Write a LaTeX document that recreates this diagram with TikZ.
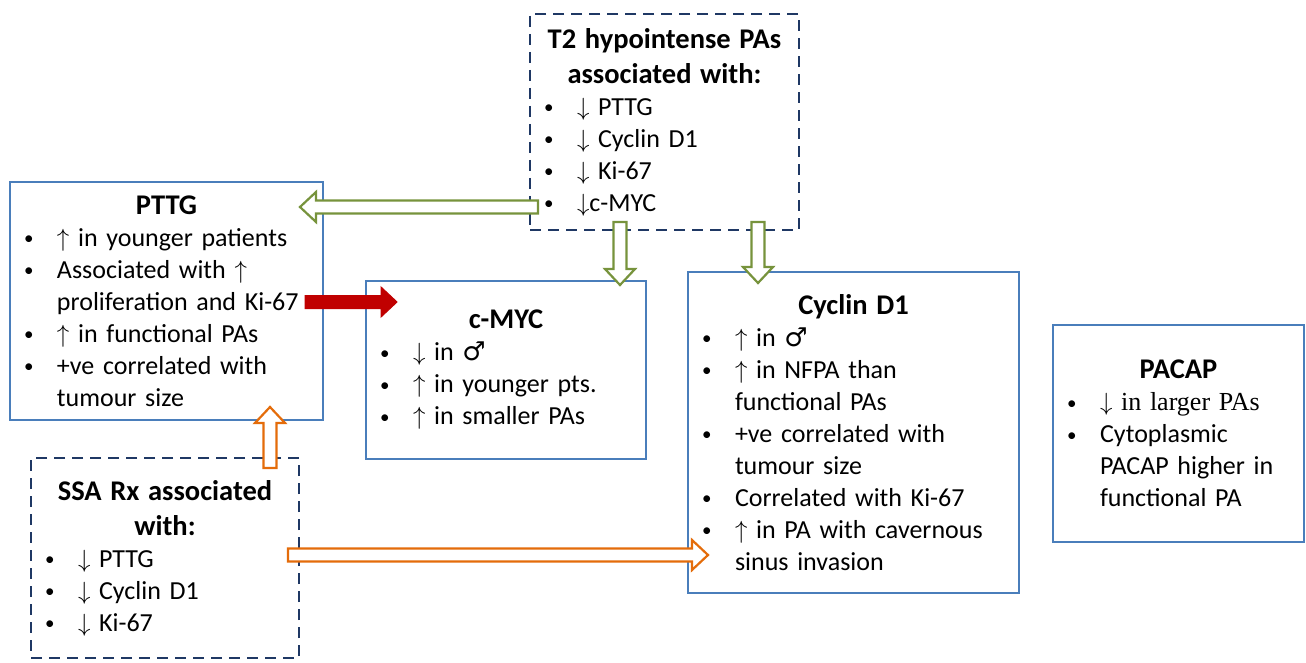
\documentclass[tikz,border=0pt]{standalone}
\usepackage{fontspec}
\setmainfont{Carlito}
\newfontfamily\symfont{DejaVu Sans}
\newfontfamily\seriffont{Liberation Serif}
\usetikzlibrary{calc}

\definecolor{boxblue}{RGB}{74,126,187}
\definecolor{dashnavy}{RGB}{31,56,100}
\definecolor{arrowgreen}{RGB}{119,147,60}
\definecolor{arroworange}{RGB}{228,108,10}
\definecolor{arrowred}{RGB}{192,0,0}

\newcommand{\uarr}{{\fontsize{33}{33}\selectfont$\uparrow$}}
\newcommand{\darr}{{\fontsize{33}{33}\selectfont$\downarrow$}}
\newcommand{\malesym}{{\symfont ♂}}
\newcommand{\bul}[1]{\par\hangindent=35pt\hangafter=1\noindent\makebox[35pt][l]{\hspace{2pt}\raisebox{1.5pt}{\fontsize{19}{19}\selectfont\textbullet}}#1\par}
\newcommand{\ttl}[1]{{\centering\fontsize{28.5}{35}\selectfont\bfseries #1\par}}

\begin{document}
\begin{tikzpicture}[
    x=1pt, y=-1pt,
    box/.style={rectangle, draw=boxblue, line width=1.6pt, fill=white, align=left, inner xsep=12pt, inner ysep=4pt, font=\fontsize{26}{32}\selectfont},
    dbox/.style={box, draw=dashnavy, line width=2.4pt, dash pattern=on 11pt off 7pt},
    blockarrow/.style={to path={let \p1=($(\tikztotarget)!16pt!(\tikztostart)$) in
        ($(\tikztostart)!6.5pt!90:(\tikztotarget)$) -- ($(\p1)!6.5pt!90:(\tikztotarget)$) -- ($(\p1)!15pt!90:(\tikztotarget)$) -- (\tikztotarget)
        -- ($(\p1)!15pt!-90:(\tikztotarget)$) -- ($(\p1)!6.5pt!-90:(\tikztotarget)$) -- ($(\tikztostart)!6.5pt!-90:(\tikztotarget)$) -- cycle}},
    greenarrow/.style={blockarrow, draw=arrowgreen, fill=white, line width=2.2pt},
    orangearrow/.style={blockarrow, draw=arroworange, fill=white, line width=2.2pt},
    redarrow/.style={blockarrow, draw=arrowred, fill=arrowred, line width=1pt}
]
    \useasboundingbox (0,0) rectangle (1306,663);

    % Boxes
    \node[dbox, text width=245pt, minimum height=216pt] (t2) at (664.5,122) {%
        \ttl{T2 hypointense PAs\\associated with:}%
        \bul{\darr\ PTTG}\bul{\darr\ Cyclin D1}\bul{\darr\ Ki-67}\bul{\darr c-MYC}};
    \node[box, text width=289pt, minimum height=238pt] (pttg) at (166.5,301) {%
        \ttl{PTTG}%
        \bul{\uarr\ in younger patients}%
        \bul{Associated with \uarr\newline proliferation and Ki-67}%
        \bul{\uarr\ in functional PAs}%
        \bul{+ve correlated with\newline tumour size}};
    \node[box, text width=256pt, minimum height=178pt] (cmyc) at (506,370) {%
        \ttl{c-MYC}%
        \bul{\darr\ in \malesym}%
        \bul{\uarr\ in younger pts.}%
        \bul{\uarr\ in smaller PAs}};
    \node[box, text width=307pt, minimum height=321pt] (cyclin) at (853.5,432.5) {%
        \ttl{Cyclin D1}%
        \bul{\uarr\ in \malesym}%
        \bul{\uarr\ in NFPA than\newline functional PAs}%
        \bul{+ve correlated with\newline tumour size}%
        \bul{Correlated with Ki-67}%
        \bul{\uarr\ in PA with cavernous\newline sinus invasion}};
    \node[box, text width=227pt, minimum height=217pt] (pacap) at (1178.5,433.5) {%
        \ttl{PACAP}%
        \bul{\darr\ {\seriffont in larger PAs}}%
        \bul{Cytoplasmic\newline PACAP higher in\newline functional PA}};
    \node[dbox, text width=244pt, minimum height=200pt] (ssa) at (165,558) {%
        \ttl{SSA Rx associated\\with:}%
        \bul{\darr\ PTTG}\bul{\darr\ Cyclin D1}\bul{\darr\ Ki-67}};

    % Arrow ends
    \coordinate (t2left) at (538,207);
    \coordinate (pttgright) at (300,207);
    \coordinate (t2low1) at (620,222);
    \coordinate (cmyctop) at (620,285);
    \coordinate (t2low2) at (758,222);
    \coordinate (cyclintop) at (758,283);
    \coordinate (pttgout) at (305,302);
    \coordinate (cmycin) at (397,302);
    \coordinate (ssatop) at (270,468);
    \coordinate (pttglow) at (270,407);
    \coordinate (ssaright) at (288,555);
    \coordinate (cyclinin) at (708,555);

    % Arrows
    \draw[greenarrow] (t2left) to (pttgright);
    \draw[greenarrow] (t2low1) to (cmyctop);
    \draw[greenarrow] (t2low2) to (cyclintop);
    \draw[redarrow] (pttgout) to (cmycin);
    \draw[orangearrow] (ssatop) to (pttglow);
    \draw[orangearrow] (ssaright) to (cyclinin);

\end{tikzpicture}
\end{document}
